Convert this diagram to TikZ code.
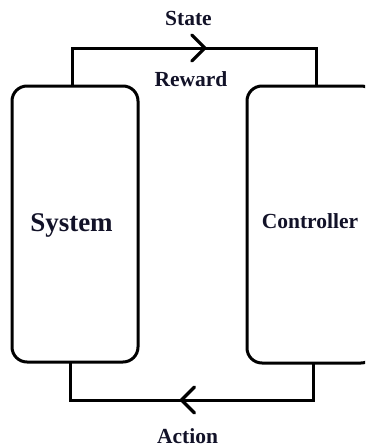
\documentclass[tikz,border=0pt]{standalone}
\usepackage{fontspec}
\setmainfont{Liberation Serif}
\usetikzlibrary{decorations.markings}
\definecolor{ink}{RGB}{18,18,40}
\begin{document}
\begin{tikzpicture}[x=1pt,y=-1pt,
  block/.style={draw=black,line width=3pt,rounded corners=15pt,outer sep=0pt,inner sep=0pt},
  lbl/.style={text=ink,font=\bfseries\fontsize{21.5}{24}\selectfont,anchor=base,inner sep=0pt},
  big/.style={lbl,font=\bfseries\fontsize{27}{30}\selectfont},
  flow/.style={line width=3pt,
    postaction={decorate,decoration={markings,
      mark=at position #1 with {\draw[line width=3.3pt,line cap=round,line join=miter]
        (-13pt,13pt) -- (0pt,0pt) -- (-13pt,-13pt);}}}}
]
\useasboundingbox (0,0) rectangle (365,448);
\begin{scope}
\clip (0,0) rectangle (365,448);
% the two blocks
\node[block,minimum width=126pt,minimum height=276pt] (sys) at (75,224) {};
\node[block,minimum width=129pt,minimum height=277pt] (ctl) at (311.5,224.5) {};
% feedback loop
\draw[flow=0.534] ([xshift=-3pt]sys.north) -- ++(0,-38) coordinate (tl)
  -| ([xshift=4.5pt]ctl.north);
\draw[flow=0.53] ([xshift=1.5pt]ctl.south) -- ++(0,37) coordinate (br)
  -| ([xshift=-5pt]sys.south);
\end{scope}
% texts
\node[big] (tsys) at (71.5,231) {System};
\node[lbl] (tctl) at (310,228) {Controller};
\node[lbl] (tstate) at (188.5,25) {State};
\node[lbl] (treward) at (191,86) {Reward};
\node[lbl] (taction) at (187.5,443) {Action};
\end{tikzpicture}
\end{document}
